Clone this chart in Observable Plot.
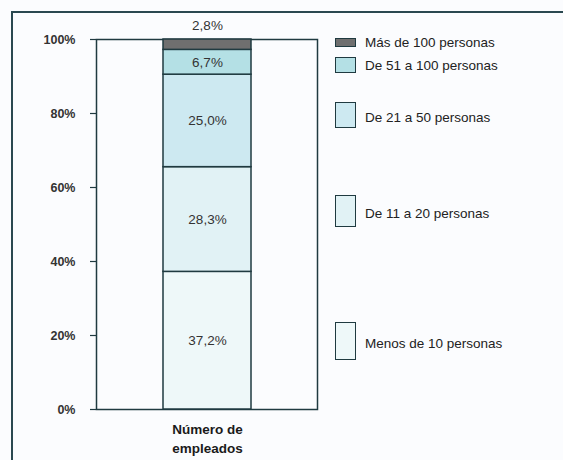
<!DOCTYPE html>
<html>
<head>
<meta charset="utf-8">
<script src="https://cdn.jsdelivr.net/npm/d3@7"></script>
<script src="https://cdn.jsdelivr.net/npm/@observablehq/plot@0.6"></script>
<style>
  html, body { margin: 0; padding: 0; background: #fbfcfe; }
  #wrap { position: relative; width: 563px; height: 460px; overflow: hidden; font-family: "Liberation Sans", Arial, sans-serif; }
  #border { position: absolute; left: 11px; top: 11px; width: 600px; height: 500px; border-left: 2px solid #2a4850; border-top: 2px solid #2a4850; }
  #chart { position: absolute; left: 0; top: 0; }
  .swatch { position: absolute; left: 335px; width: 21px; border: 1.5px solid #1f3a40; box-sizing: border-box; }
  .legend-label { position: absolute; left: 365px; font-size: 13.5px; color: #222; transform: translateY(-50%); white-space: nowrap; }
</style>
</head>
<body>
<div id="wrap">
  <div id="border"></div>
  <div id="chart"></div>
</div>
<script>
// Company size distribution (share of firms by number of employees)
const categories = ["Menos de 10 personas", "De 11 a 20 personas", "De 21 a 50 personas", "De 51 a 100 personas", "Más de 100 personas"];
const shares = [37.2, 28.3, 25.0, 6.7, 2.8];
const colors = ["#eef8f9", "#e1f2f5", "#cde9f1", "#b4e0e5", "#6f6f6f"];
const barLabel = "Número de empleados";
const yTicks = [0, 20, 40, 60, 80, 100];

// legend swatch geometry (top, height) and label centre, in px
const legendBoxes = [
  {top: 322, h: 38, cy: 343},
  {top: 195, h: 32, cy: 213},
  {top: 102, h: 26, cy: 117},
  {top: 57, h: 16, cy: 65},
  {top: 38, h: 9, cy: 42}
];

const data = categories.map((c, i) => ({cat: c, value: shares[i], x: barLabel}));

const fmt = v => v.toFixed(1).replace(".", ",") + "%";

// stacked positions for labels
let acc = 0;
const stacked = data.map(d => { const y1 = acc; acc += d.value; return {...d, y1, y2: acc, mid: (y1 + acc) / 2}; });
const inside = stacked.filter(d => d.value >= 5);
const outside = stacked.filter(d => d.value < 5);

const chart = Plot.plot({
  width: 563,
  height: 460,
  marginLeft: 96,
  marginRight: 246,
  marginTop: 39,
  marginBottom: 51,
  style: {background: "transparent", fontFamily: "Liberation Sans, Arial, sans-serif", overflow: "visible"},
  x: {domain: [barLabel], padding: 0.43, axis: null},
  y: {domain: [0, 100], ticks: yTicks, axis: null},
  color: {domain: categories, range: colors},
  marks: [
    Plot.frame({stroke: "#1f3a40", strokeWidth: 1.5}),
    Plot.barY(data, {x: "x", y: "value", fill: "cat", stroke: "#1f3a40", strokeWidth: 1.5, order: null}),
    Plot.axisY({ticks: yTicks, tickSize: 6, tickPadding: 15, tickFormat: d => d + "%", fontSize: 12.5, fontWeight: "bold", fill: "#333", stroke: "#1f3a40", strokeWidth: 1.2}),
    Plot.ruleY([0], {x1: () => -0.05, stroke: "#1f3a40", strokeWidth: 1.5}),
    Plot.text(inside, {x: "x", y: "mid", text: d => fmt(d.value), fontSize: 13.5, fill: "#333"}),
    Plot.text(outside, {x: "x", y: "y2", text: d => fmt(d.value), dy: -14, fontSize: 13.5, fill: "#333"}),
    Plot.text([barLabel], {x: d => d, frameAnchor: "bottom", dy: 43, text: () => "Número de\nempleados", lineHeight: 1.4, fontSize: 13.5, fontWeight: "bold", fill: "#1a1a1a"})
  ]
});
document.getElementById("chart").appendChild(chart);

// legend
const wrap = document.getElementById("wrap");
categories.forEach((c, i) => {
  const b = legendBoxes[i];
  const sw = document.createElement("div");
  sw.className = "swatch";
  sw.style.top = b.top + "px";
  sw.style.height = b.h + "px";
  sw.style.background = colors[i];
  wrap.appendChild(sw);
  const lab = document.createElement("div");
  lab.className = "legend-label";
  lab.style.top = b.cy + "px";
  lab.textContent = c;
  wrap.appendChild(lab);
});
</script>
</body>
</html>
